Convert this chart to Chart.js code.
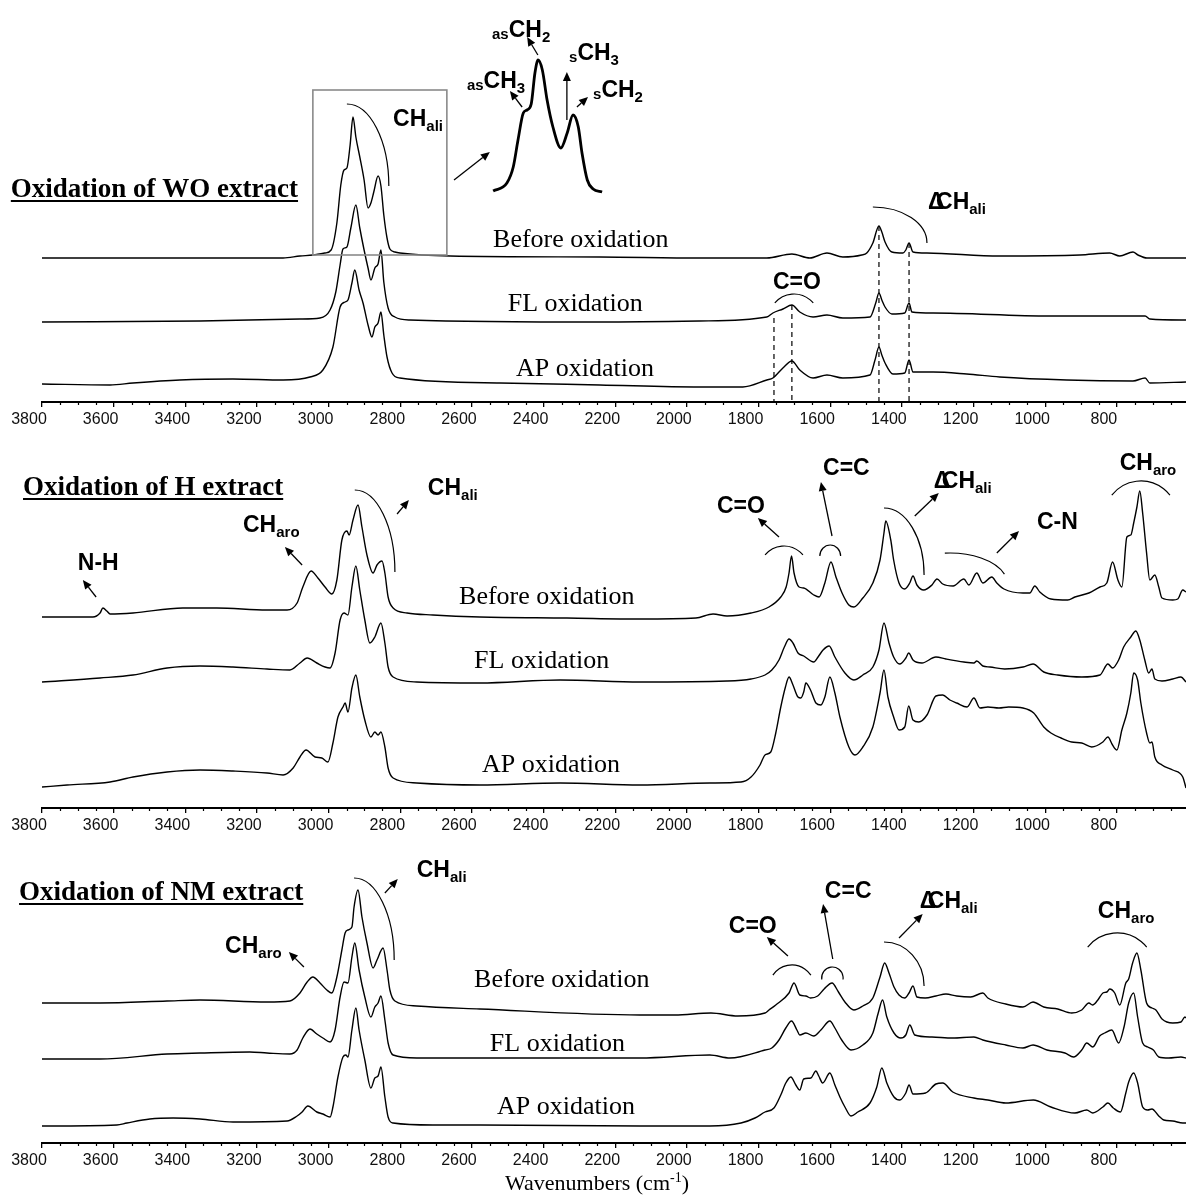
<!DOCTYPE html>
<html lang="en">
<head>
<meta charset="UTF-8">
<title>FTIR spectra - oxidation of extracts</title>
<script src="https://cdn.jsdelivr.net/npm/chart.js@4"></script>
<style>
  body { margin: 0; background: #fff; width: 1186px; height: 1200px; position: relative; overflow: hidden; }
  canvas { position: absolute; left: 0; }
</style>
</head>
<body>
<canvas id="wo" width="1186" height="440" style="top:0"></canvas>
<canvas id="hx" width="1186" height="400" style="top:440px"></canvas>
<canvas id="nm" width="1186" height="360" style="top:840px"></canvas>
<script>
// data: [wavenumber (cm-1), stacked absorbance (a.u.)]
const majorTicks = [3800, 3600, 3400, 3200, 3000, 2800, 2600, 2400, 2200, 2000, 1800, 1600, 1400, 1200, 1000, 800];

// --- WO extract
const wo_before = [[3800,144],[3127,144],[3080,146],[3044,147],[3010,149],[2993,152],[2977,179],[2966,217],[2957,232],[2949,234],[2940,257],[2932,285],[2924,265],[2913,245],[2901,222],[2890,194],[2882,199],[2874,210],[2862,226],[2854,216],[2846,187],[2837,164],[2829,153],[2815,150],[2801,149],[2661,146],[2243,145],[1964,144],[1777,144],[1707,148],[1657,144],[1609,149],[1565,145],[1512,147],[1498,149],[1481,159],[1464,176],[1456,170],[1447,160],[1428,150],[1397,149],[1389,152],[1380,159],[1369,150],[1330,149],[1127,146],[903,147],[820,149],[792,146],[755,150],[741,147],[716,144],[607,144]];
const wo_fl = [[3800,80],[3359,81],[3080,83],[3024,84],[2996,92],[2980,110],[2968,137],[2960,153],[2949,155],[2938,174],[2924,197],[2913,174],[2901,152],[2890,134],[2882,122],[2871,134],[2862,138],[2854,152],[2846,120],[2834,94],[2815,85],[2773,82],[2243,80],[1964,81],[1777,85],[1760,89],[1732,93],[1707,97],[1685,90],[1648,85],[1609,87],[1565,84],[1489,85],[1473,99],[1464,109],[1456,102],[1447,95],[1428,88],[1392,89],[1380,99],[1372,90],[1313,89],[987,86],[721,86],[708,83],[607,82]];
const wo_ap = [[3800,18],[3610,17],[3546,19],[3415,22],[3267,23],[3127,22],[3052,25],[3016,32],[2988,55],[2968,95],[2954,100],[2946,102],[2935,119],[2927,132],[2915,112],[2904,99],[2890,77],[2879,65],[2871,75],[2862,79],[2854,90],[2846,67],[2837,45],[2823,29],[2801,24],[2522,19],[2243,17],[1964,15],[1844,15],[1777,22],[1760,24],[1732,34],[1707,41],[1685,32],[1648,24],[1609,27],[1565,24],[1489,27],[1475,42],[1464,55],[1456,47],[1447,39],[1425,28],[1392,29],[1380,42],[1369,30],[1313,30],[1219,28],[1127,25],[940,22],[755,21],[721,24],[708,19],[607,20]];
// magnified CH region of "Before oxidation"
const wo_inset = [[3017,0],[2991,8],[2979,24],[2970,51],[2960,78],[2953,81],[2945,87],[2938,118],[2932,131],[2924,121],[2915,91],[2904,64],[2889,43],[2877,58],[2866,76],[2856,64],[2849,38],[2839,11],[2828,2],[2811,-1]];

// --- H extract
const h_before = [[3800,191],[3658,191],[3638,195],[3630,200],[3619,197],[3610,194],[3546,195],[3407,200],[3312,200],[3172,198],[3116,198],[3088,205],[3072,221],[3049,237],[3030,230],[3010,221],[2991,214],[2977,228],[2963,268],[2949,277],[2943,273],[2932,288],[2918,303],[2907,281],[2893,253],[2876,235],[2865,243],[2851,247],[2843,235],[2834,211],[2820,200],[2781,195],[2709,193],[2578,191],[2335,190],[2131,189],[1975,190],[1927,194],[1888,192],[1821,195],[1771,201],[1738,211],[1723,221],[1715,235],[1708,252],[1701,235],[1687,221],[1674,220],[1646,213],[1631,211],[1615,225],[1598,246],[1584,231],[1567,215],[1548,203],[1534,201],[1509,210],[1481,225],[1461,248],[1450,275],[1445,287],[1431,268],[1423,248],[1408,225],[1392,219],[1378,225],[1369,232],[1358,223],[1339,218],[1316,223],[1302,229],[1286,224],[1257,222],[1227,229],[1213,223],[1191,235],[1174,225],[1149,231],[1135,225],[1115,219],[1062,215],[1043,215],[1029,222],[1015,216],[984,209],[937,208],[917,211],[878,215],[847,221],[828,225],[812,246],[797,228],[786,221],[772,271],[761,273],[753,285],[744,301],[736,317],[728,295],[717,255],[708,228],[694,233],[683,221],[674,210],[644,208],[630,209],[616,218],[607,216]];
const h_fl = [[3800,126],[3638,130],[3546,133],[3451,140],[3359,142],[3267,141],[3172,139],[3108,138],[3080,145],[3060,150],[3033,145],[3010,141],[2996,140],[2982,155],[2968,188],[2957,195],[2946,193],[2935,221],[2924,242],[2913,218],[2899,188],[2885,165],[2871,171],[2854,185],[2843,165],[2834,141],[2820,131],[2754,126],[2578,125],[2354,128],[2131,126],[1888,127],[1821,129],[1782,133],[1763,138],[1743,148],[1728,161],[1715,169],[1704,165],[1690,155],[1674,152],[1646,146],[1634,151],[1620,158],[1603,162],[1587,151],[1559,135],[1534,128],[1509,133],[1481,141],[1464,158],[1450,185],[1436,165],[1423,151],[1406,144],[1389,150],[1381,155],[1369,148],[1344,145],[1305,151],[1277,149],[1227,146],[1199,145],[1191,147],[1174,142],[1154,141],[1113,139],[1062,141],[1034,144],[1004,136],[965,133],[898,131],[847,133],[825,144],[812,140],[795,148],[781,161],[761,171],[747,177],[736,168],[722,148],[711,135],[702,139],[694,129],[674,127],[644,129],[621,131],[607,126]];
const h_ap = [[3800,21],[3730,23],[3610,26],[3546,31],[3451,36],[3359,38],[3267,37],[3172,35],[3127,33],[3099,40],[3080,51],[3063,58],[3038,51],[3019,50],[3002,46],[2988,65],[2974,91],[2960,101],[2954,105],[2946,96],[2935,120],[2924,133],[2913,111],[2899,88],[2882,71],[2871,76],[2862,73],[2854,76],[2843,61],[2834,40],[2820,30],[2754,25],[2578,23],[2354,25],[2131,23],[1936,25],[1849,26],[1821,31],[1796,43],[1782,53],[1766,56],[1752,75],[1738,101],[1725,121],[1715,131],[1704,123],[1690,111],[1682,110],[1674,116],[1668,125],[1655,118],[1640,105],[1626,103],[1615,111],[1601,131],[1587,115],[1573,91],[1548,61],[1531,53],[1509,61],[1481,81],[1461,115],[1450,138],[1439,111],[1423,91],[1408,78],[1392,81],[1381,102],[1369,88],[1353,86],[1330,93],[1305,112],[1286,113],[1266,108],[1247,105],[1218,101],[1199,110],[1182,100],[1160,101],[1129,100],[1102,101],[1062,100],[1032,95],[1004,81],[984,75],[956,70],[926,66],[898,65],[870,61],[839,66],[825,71],[812,63],[800,58],[786,78],[772,95],[761,115],[753,135],[742,128],[733,105],[717,75],[708,65],[702,66],[694,51],[674,43],[644,38],[616,31],[607,20]];

// --- NM extract
const nm_before = [[3800,140],[3638,140],[3451,142],[3359,143],[3172,141],[3108,142],[3080,150],[3060,161],[3044,166],[3024,160],[3005,153],[2991,150],[2977,166],[2963,193],[2954,210],[2946,213],[2935,216],[2929,236],[2918,253],[2907,226],[2893,200],[2876,175],[2865,183],[2848,195],[2837,173],[2829,153],[2815,142],[2754,137],[2578,134],[2131,128],[2034,128],[1933,130],[1858,127],[1782,130],[1771,133],[1752,138],[1715,150],[1701,160],[1685,148],[1668,147],[1655,145],[1635,147],[1617,154],[1595,160],[1577,151],[1559,141],[1534,133],[1509,137],[1481,145],[1461,166],[1448,180],[1436,170],[1422,156],[1408,148],[1392,145],[1380,150],[1369,157],[1358,146],[1335,145],[1305,147],[1277,149],[1247,147],[1208,146],[1174,150],[1160,145],[1110,139],[1062,136],[1034,141],[1004,136],[965,134],[926,130],[898,133],[878,140],[868,138],[853,143],[839,150],[828,151],[820,154],[806,150],[792,138],[775,160],[767,164],[756,180],[744,190],[733,173],[717,140],[702,135],[691,133],[674,124],[644,120],[621,121],[610,126],[607,125]];
const nm_fl = [[3800,84],[3730,84],[3638,84],[3451,89],[3359,90],[3220,91],[3172,90],[3108,89],[3088,93],[3072,105],[3052,114],[3033,109],[3016,105],[2996,101],[2982,113],[2968,146],[2957,161],[2946,160],[2935,186],[2927,200],[2915,173],[2899,146],[2882,126],[2871,136],[2862,140],[2854,147],[2843,123],[2834,100],[2820,88],[2754,85],[2578,85],[2131,85],[1936,88],[1880,85],[1782,93],[1763,95],[1743,103],[1724,115],[1708,122],[1693,113],[1685,108],[1668,110],[1646,107],[1626,113],[1601,122],[1587,115],[1568,103],[1542,93],[1509,98],[1481,110],[1466,130],[1454,143],[1442,126],[1422,110],[1403,105],[1389,108],[1378,118],[1364,108],[1316,106],[1258,105],[1199,106],[1174,103],[1110,98],[1062,95],[1034,98],[995,93],[945,90],[921,86],[898,93],[884,100],[867,96],[848,107],[834,110],[814,113],[795,100],[780,116],[767,140],[753,150],[742,126],[728,100],[714,96],[698,93],[683,86],[655,85],[621,86],[607,85]];
const nm_ap = [[3800,17],[3778,17],[3591,18],[3563,20],[3499,24],[3434,25],[3359,24],[3267,21],[3116,22],[3088,27],[3074,31],[3058,37],[3033,31],[3016,29],[2996,26],[2988,36],[2974,66],[2960,86],[2952,88],[2946,86],[2935,113],[2924,135],[2915,113],[2899,83],[2882,55],[2871,65],[2862,67],[2854,76],[2843,46],[2834,26],[2820,20],[2709,18],[2578,18],[2131,17],[1936,17],[1849,20],[1810,25],[1782,31],[1757,35],[1738,48],[1724,60],[1710,66],[1696,58],[1685,53],[1674,64],[1654,65],[1640,72],[1632,67],[1621,60],[1601,70],[1587,58],[1573,46],[1559,36],[1542,27],[1523,31],[1489,40],[1470,56],[1456,75],[1442,60],[1422,46],[1406,43],[1389,50],[1380,58],[1369,49],[1334,50],[1305,59],[1286,60],[1258,51],[1199,45],[1160,43],[1110,40],[1033,43],[984,36],[917,30],[884,33],[867,30],[839,36],[825,40],[810,35],[790,31],[775,50],[767,61],[753,70],[742,60],[728,36],[714,33],[702,34],[683,27],[669,23],[644,22],[616,20],[607,20]];

// annotations, placed in (wavenumber, absorbance) units
const woNotes = {
  title: [3887, 205, 'Oxidation of WO extract'],
  samples: [[2541, 155, 'Before oxidation'], [2500, 91, 'FL oxidation'], [2477, 26, 'AP oxidation']],
  labels: [
    [2820, 276, [['CH'], ['ali', 'sub']]],
    [1760, 113, [['C=O']]],
    [1327, 193, [['\u0394', 'delta'], ['CH'], ['ali', 'sub']]],
    [2614, 314, [['as', 'pre'], ['CH'], ['3', 'sub']]],
    [2544, 365, [['as', 'pre'], ['CH'], ['2', 'sub']]],
    [2329, 342, [['s', 'pre'], ['CH'], ['3', 'sub']]],
    [2262, 305, [['s', 'pre'], ['CH'], ['2', 'sub']]]
  ],
  arrows: [[2650, 222, 2550, 250], [2460, 295, 2494, 311], [2416, 347, 2446, 365], [2335, 282, 2335, 330], [2307, 295, 2276, 305]],
  arcs: [[2949, 216, 117, 82, -90, 0], [1701, 83, 70, 25, -140, -40], [1481, 159, 151, 36, -90, 0]],
  dashed: [[1757, 84], [1707, 97], [1464, 176], [1380, 159]],
  box: [3044, 312, 2670, 147]
};
const hNotes = {
  title: [3853, 313, 'Oxidation of H extract'],
  samples: [[2636, 204, 'Before oxidation'], [2594, 140, 'FL oxidation'], [2572, 36, 'AP oxidation']],
  labels: [
    [3700, 238, [['N-H']]],
    [3239, 276, [['CH'], ['aro', 'sub']]],
    [2723, 313, [['CH'], ['ali', 'sub']]],
    [1916, 295, [['C=O']]],
    [1620, 333, [['C=C']]],
    [1311, 320, [['\u0394', 'delta'], ['CH'], ['ali', 'sub']]],
    [1023, 279, [['C-N']]],
    [792, 338, [['CH'], ['aro', 'sub']]]
  ],
  arrows: [[3649, 211, 3686, 228], [3074, 243, 3122, 261], [2809, 294, 2776, 308], [1743, 271, 1802, 290], [1595, 272, 1626, 326], [1364, 292, 1297, 315], [1135, 255, 1073, 277]],
  arcs: [[2927, 236, 112, 82, -90, 0], [1729, 237, 69, 25, -140, -40], [1600, 252, 29, 11, -180, 0], [1450, 233, 112, 67, -90, 0], [1266, 223, 162, 32, -95, -20], [733, 290, 103, 37, -142, -38]],
  dashed: []
};
const nmNotes = {
  title: [3864, 243, 'Oxidation of NM extract'],
  samples: [[2594, 156, 'Before oxidation'], [2550, 92, 'FL oxidation'], [2530, 29, 'AP oxidation']],
  labels: [
    [3289, 190, [['CH'], ['aro', 'sub']]],
    [2754, 266, [['CH'], ['ali', 'sub']]],
    [1883, 210, [['C=O']]],
    [1615, 245, [['C=C']]],
    [1350, 235, [['\u0394', 'delta'], ['CH'], ['ali', 'sub']]],
    [853, 225, [['CH'], ['aro', 'sub']]]
  ],
  arrows: [[3069, 176, 3111, 191], [2843, 250, 2807, 264], [1718, 187, 1777, 206], [1593, 184, 1620, 239], [1408, 205, 1342, 229]],
  arcs: [[2929, 183, 112, 82, -90, 0], [1707, 155, 64, 23, -146, -34], [1594, 165, 30, 11, 172, 368], [1450, 157, 112, 44, -90, 0], [799, 172, 106, 38, -141, -39]],
  dashed: [],
  axisTitle: [2251, -47]
};

const BIG = 'bold 23px "Liberation Sans"';
const SMALL = 'bold 15px "Liberation Sans"';

function drawRich(ctx, x, y, parts) {
  let cx = x;
  for (const [t, k] of parts) {
    if (k === 'sub' || k === 'pre') {
      ctx.font = SMALL;
      ctx.fillText(t, cx, y + (k === 'sub' ? 5 : 2));
      cx += ctx.measureText(t).width;
    } else {
      ctx.font = BIG;
      ctx.fillText(t, cx, y);
      cx += k === 'delta' ? 8 : ctx.measureText(t).width;
    }
  }
}

function arrow(ctx, x0, y0, x1, y1) {
  const a = Math.atan2(y1 - y0, x1 - x0), L = 9, W = 4;
  const bx = x1 - L * Math.cos(a), by = y1 - L * Math.sin(a);
  ctx.beginPath(); ctx.moveTo(x0, y0); ctx.lineTo(bx, by); ctx.stroke();
  ctx.beginPath(); ctx.moveTo(x1, y1);
  ctx.lineTo(bx + W * Math.sin(a), by - W * Math.cos(a));
  ctx.lineTo(bx - W * Math.sin(a), by + W * Math.cos(a));
  ctx.closePath(); ctx.fill();
}

const notesPlugin = {
  id: 'notes',
  afterDraw(chart, args, n) {
    const { ctx, chartArea } = chart;
    const sx = chart.scales.x, sy = chart.scales.y;
    const px = v => sx.getPixelForValue(v), py = v => sy.getPixelForValue(v);
    ctx.save();
    ctx.strokeStyle = '#000'; ctx.fillStyle = '#000';

    // minor ticks every 50 cm-1
    ctx.lineWidth = 1.2;
    ctx.beginPath();
    for (let v = 3750; v > sx.min; v -= 50) {
      if (v % 200 === 0) continue;
      const xp = Math.round(px(v)) + 0.5;
      ctx.moveTo(xp, chartArea.bottom); ctx.lineTo(xp, chartArea.bottom + 3);
    }
    ctx.stroke();

    // dashed guide lines
    ctx.setLineDash([5, 4]); ctx.lineWidth = 1.2;
    n.dashed.forEach(([w, h]) => {
      ctx.beginPath(); ctx.moveTo(px(w), py(h)); ctx.lineTo(px(w), py(0)); ctx.stroke();
    });
    ctx.setLineDash([]);

    // zoom box
    if (n.box) {
      const [w0, h0, w1, h1] = n.box;
      ctx.strokeStyle = '#8a8a8a'; ctx.lineWidth = 1.6;
      ctx.strokeRect(px(w0), py(h0), px(w1) - px(w0), py(h1) - py(h0));
      ctx.strokeStyle = '#000';
    }

    // brackets
    ctx.lineWidth = 1.2;
    n.arcs.forEach(([w, h, rw, rh, a0, a1]) => {
      const cx = px(w), cy = py(h);
      const rx = Math.abs(px(w - rw) - cx), ry = Math.abs(py(h + rh) - cy);
      ctx.beginPath();
      ctx.ellipse(cx, cy, rx, ry, 0, a0 * Math.PI / 180, a1 * Math.PI / 180);
      ctx.stroke();
    });

    // arrows
    ctx.lineWidth = 1.3;
    n.arrows.forEach(([w0, h0, w1, h1]) => arrow(ctx, px(w0), py(h0), px(w1), py(h1)));

    // band labels
    ctx.textBaseline = 'alphabetic'; ctx.textAlign = 'left';
    n.labels.forEach(([w, h, parts]) => drawRich(ctx, px(w), py(h), parts));

    // sample names
    ctx.font = '26px "Liberation Serif"';
    n.samples.forEach(([w, h, t]) => ctx.fillText(t, px(w), py(h)));

    // panel title, underlined
    const [tw, th, tt] = n.title;
    ctx.font = 'bold 27px "Liberation Serif"';
    ctx.fillText(tt, px(tw), py(th));
    ctx.fillRect(px(tw), py(th) + 3, ctx.measureText(tt).width, 2);

    // x axis title
    if (n.axisTitle) {
      const a = 'Wavenumbers (cm', b = '-1', c = ')';
      ctx.font = '22px "Liberation Serif"';
      const wa = ctx.measureText(a).width, wc = ctx.measureText(c).width;
      ctx.font = '14px "Liberation Serif"';
      const wb = ctx.measureText(b).width;
      const x0 = px(n.axisTitle[0]) - (wa + wb + wc) / 2;
      const y0 = py(n.axisTitle[1]);
      ctx.font = '22px "Liberation Serif"'; ctx.fillText(a, x0, y0);
      ctx.font = '14px "Liberation Serif"'; ctx.fillText(b, x0 + wa, y0 - 8);
      ctx.font = '22px "Liberation Serif"'; ctx.fillText(c, x0 + wa + wb, y0);
    }
    ctx.restore();
  }
};

function spectrum(pairs, extra) {
  return Object.assign({
    data: pairs.map(p => ({ x: p[0], y: p[1] })),
    xAxisID: 'x', yAxisID: 'y',
    borderColor: '#000', borderWidth: 1.4,
    pointRadius: 0, fill: false,
    cubicInterpolationMode: 'monotone'
  }, extra || {});
}

function panel(id, series, notes, yMax, padBottom, extraScales) {
  const scales = {
    x: {
      type: 'linear', axis: 'x', reverse: true, min: 607, max: 3800,
      afterBuildTicks: s => { s.ticks = majorTicks.map(v => ({ value: v })); },
      afterFit: s => { s.height = 30; },
      grid: { drawOnChartArea: false, drawTicks: true, tickLength: 5, color: '#000', lineWidth: 1.3 },
      border: { display: true, color: '#000', width: 2 },
      ticks: {
        autoSkip: false, maxRotation: 0, labelOffset: -13, padding: 3, color: '#111',
        font: { family: 'Liberation Sans', size: 16 },
        callback: v => String(v)
      }
    },
    y: { type: 'linear', axis: 'y', display: false, min: 0, max: yMax }
  };
  Object.assign(scales, extraScales || {});
  return new Chart(document.getElementById(id), {
    type: 'line',
    data: { datasets: series },
    options: {
      responsive: false, animation: false, events: [],
      layout: { padding: { left: 42, right: 0, top: 0, bottom: padBottom } },
      plugins: { legend: { display: false }, tooltip: { enabled: false }, notes: notes },
      scales: scales
    },
    plugins: [notesPlugin]
  });
}

panel('wo', [
  spectrum(wo_before), spectrum(wo_fl), spectrum(wo_ap),
  spectrum(wo_inset, { xAxisID: 'xi', yAxisID: 'yi', borderWidth: 2.8 })
], woNotes, 402, 8, {
  // hidden scales that place the magnified view beside the box
  xi: { type: 'linear', axis: 'x', reverse: true, display: false, min: 1707, max: 3870 },
  yi: { type: 'linear', axis: 'y', display: false, min: -211, max: 191 }
});
panel('hx', [spectrum(h_before), spectrum(h_fl), spectrum(h_ap)], hNotes, 368, 2);
panel('nm', [spectrum(nm_before), spectrum(nm_fl), spectrum(nm_ap)], nmNotes, 303, 27);
</script>
</body>
</html>
